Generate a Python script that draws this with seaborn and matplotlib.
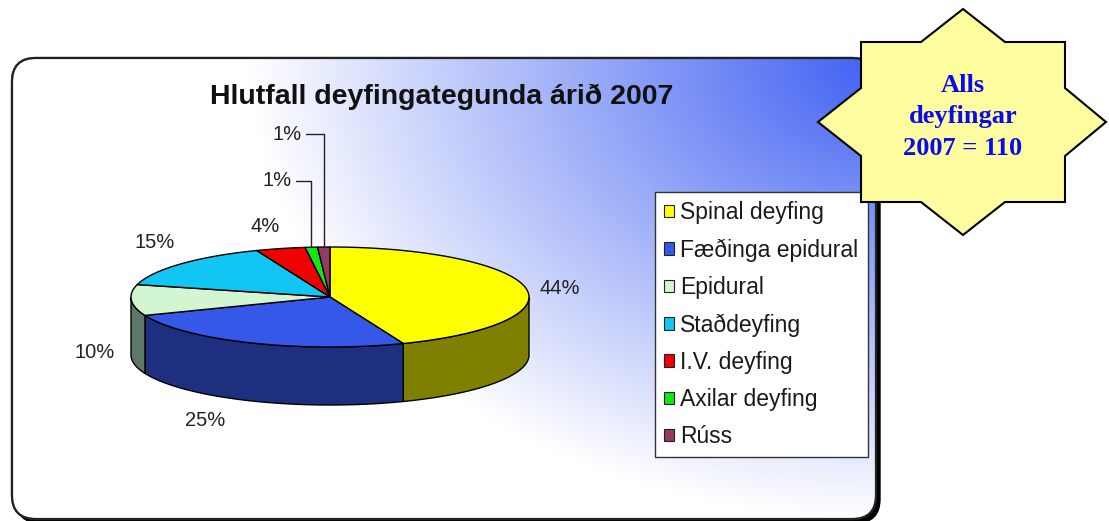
import numpy as np
import matplotlib
matplotlib.use("Agg")
import matplotlib.pyplot as plt
import seaborn as sns
from matplotlib.patches import Polygon, FancyBboxPatch, Patch

# ---------------- data ----------------
categories = ["Spinal deyfing", "Fæðinga epidural", "Epidural", "Staðdeyfing",
              "I.V. deyfing", "Axilar deyfing", "Rúss"]
percents = [44, 25, 10, 15, 4, 1, 1]
title = "Hlutfall deyfingategunda árið 2007"
total_text = "Alls\ndeyfingar\n2007 = 110"

top_colors = ["#ffff00", "#3558e8", "#d2f5d2", "#12c6f4", "#f00000", "#14e614", "#953a62"]
side_colors = ["#808000", "#1f2f80", "#5f7766", "#0a7090", "#900000", "#0a8a0a", "#5a2238"]

sns.set_theme(style="white")
plt.rcParams["font.family"] = ["Liberation Sans", "DejaVu Sans"]

W, H = 1109, 521
fig = plt.figure(figsize=(W / 100, H / 100), dpi=100)
ax = fig.add_axes([0, 0, 1, 1])
ax.set_xlim(0, W)
ax.set_ylim(H, 0)
ax.axis("off")

# ---------------- panel with gradient ----------------
px0, py0, pw, ph = 12, 58, 864, 461
shadow = FancyBboxPatch((px0 + 4, py0 + 4), pw, ph,
                        boxstyle="round,pad=0,rounding_size=24",
                        facecolor="black", edgecolor="black", lw=1, zorder=1)
ax.add_patch(shadow)
panel = FancyBboxPatch((px0, py0), pw, ph, boxstyle="round,pad=0,rounding_size=24",
                       facecolor="white", edgecolor="#222222", lw=1.6, zorder=2)
ax.add_patch(panel)

xs = np.linspace(px0, px0 + pw, 600)
ys = np.linspace(py0, py0 + ph, 320)
X, Y = np.meshgrid(xs, ys)
d = np.sqrt(((X - 890) / 640) ** 2 + ((Y - 60) / 460) ** 2)
t = np.clip(1 - d, 0, 1) ** 1.0
blue = np.array([0.24, 0.37, 0.95])
img = (1 - t[..., None]) * np.array([1.0, 1.0, 1.0]) + t[..., None] * blue
im = ax.imshow(img, extent=(px0, px0 + pw, py0 + ph, py0), origin="upper",
               aspect="auto", zorder=3, interpolation="bilinear")
im.set_clip_path(panel)
border = FancyBboxPatch((px0, py0), pw, ph, boxstyle="round,pad=0,rounding_size=24",
                        facecolor="none", edgecolor="#222222", lw=1.6, zorder=4)
ax.add_patch(border)

# ---------------- title ----------------
ax.text(442, 97, title, ha="center", va="center", fontsize=20.5,
        fontweight="bold", color="#111111", zorder=10)

# ---------------- 3D pie ----------------
cx, cy, rx, ry, depth = 330, 297, 199, 50, 58
vals = np.array(percents, dtype=float)
bounds = np.concatenate([[0], np.cumsum(vals) / vals.sum() * 360])


def arc(a, b, z=0, n=80):
    th = np.radians(np.linspace(a, b, n))
    return np.column_stack([cx + rx * np.sin(th), cy - ry * np.cos(th) + z])


# side walls (front half only: 90..270 deg measured clockwise from top)
for i in range(len(vals)):
    a, b = bounds[i], bounds[i + 1]
    lo, hi = max(a, 90), min(b, 270)
    if hi > lo:
        top = arc(lo, hi)
        bot = arc(lo, hi, depth)[::-1]
        ax.add_patch(Polygon(np.vstack([top, bot]), closed=True,
                             facecolor=side_colors[i], edgecolor="black",
                             lw=1.0, zorder=11))

# top faces
for i in range(len(vals)):
    a, b = bounds[i], bounds[i + 1]
    pts = np.vstack([[cx, cy], arc(a, b)])
    ax.add_patch(Polygon(pts, closed=True, facecolor=top_colors[i],
                         edgecolor="black", lw=1.0, zorder=12))

# ---------------- percentage labels ----------------
label_pos = [(560, 288), (205, 420), (95, 352), (155, 242), (265, 226)]
for i, (lx, ly) in enumerate(label_pos):
    ax.text(lx, ly, f"{percents[i]}%", ha="center", va="center",
            fontsize=14.5, color="#222222", zorder=13)

# small slices with leader lines
leader_y = [181, 134]
leader_tx = [292, 302]
for k, i in enumerate([5, 6]):
    mid = (bounds[i] + bounds[i + 1]) / 2
    mx, my = arc(mid, mid, n=1)[0]
    ax.plot([mx, mx, leader_tx[k] + 4], [my, leader_y[k], leader_y[k]],
            color="#222222", lw=1.0, zorder=13)
    ax.text(leader_tx[k], leader_y[k], f"{percents[i]}%", ha="right",
            va="center", fontsize=14.5, color="#222222", zorder=13)

# ---------------- legend ----------------
handles = [Patch(facecolor=c, edgecolor="#222222", lw=0.8) for c in top_colors]
leg = ax.legend(handles, categories, loc="upper left",
                bbox_to_anchor=(655 / W, 1 - 192 / H), bbox_transform=fig.transFigure,
                fontsize=16.5, frameon=True, fancybox=False, framealpha=1,
                edgecolor="#333333", handlelength=0.45, handleheight=0.45,
                handletextpad=0.25, labelspacing=0.62, borderpad=0.40,
                borderaxespad=0)
leg.get_frame().set_linewidth(1.0)
leg.set_zorder(14)
for txt in leg.get_texts():
    txt.set_color("#1a1a1a")

# ---------------- star annotation ----------------
scx, scy = 963, 122
star = [(0, -113), (42, -80), (102, -80), (102, -34), (143, 0), (102, 34),
        (102, 80), (42, 80), (0, 113), (-42, 80), (-102, 80), (-102, 34),
        (-145, 0), (-102, -34), (-102, -80), (-42, -80)]
ax.add_patch(Polygon([(scx + dx, scy + dy) for dx, dy in star], closed=True,
                     facecolor="#fdfc9e", edgecolor="black", lw=1.5, zorder=20))
ax.text(scx, scy - 5, total_text, ha="center", va="center", fontsize=19,
        fontweight="bold", color="#0a0aee", family=["Liberation Serif", "DejaVu Serif"],
        linespacing=1.45, zorder=21)

fig.savefig("out.png", dpi=100, facecolor="white")
